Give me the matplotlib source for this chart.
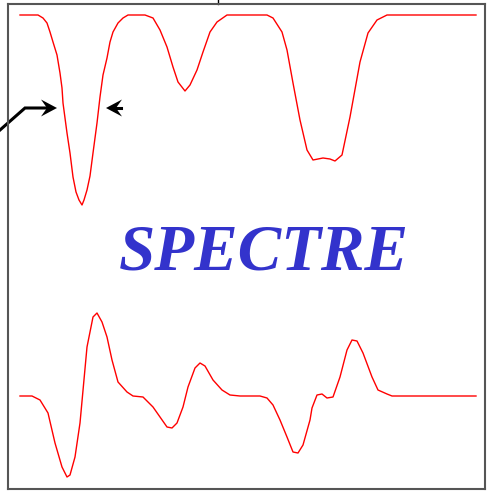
import matplotlib
matplotlib.use("Agg")
from matplotlib import pyplot as plt
from matplotlib.patches import Polygon
import numpy as np

# absorption spectrum (top) and its derivative (bottom), channel vs signal
abs_x = [12, 30, 35, 39, 42, 45, 49, 52, 54, 55, 59, 62, 65, 68, 71, 74, 76,
         79, 82, 85, 89, 92, 95, 99, 102, 105, 110, 115, 120,
         137, 145, 152, 159, 165, 170, 177, 182, 189, 195, 202, 209,
         219, 259, 265, 274, 279, 285, 292, 299, 305, 315, 322, 327, 334, 342,
         352, 360, 369, 379, 468]
abs_y = [474, 474, 471, 466, 457, 447, 434, 416, 401, 386, 356, 336, 312, 297,
         289, 284, 289, 299, 313, 336, 366, 392, 414, 431, 447, 457, 466, 471,
         474,
         474, 471, 459, 442, 422, 407, 398, 404, 419, 437, 457, 467,
         474, 474, 471, 457, 439, 406, 369, 339, 329, 331, 330, 328, 334, 372,
         427, 456, 469, 474, 474]

der_x = [12, 24, 32, 40, 47, 54, 59, 62, 67, 72, 79, 85, 89, 94, 99, 104, 110,
         119, 125, 135, 145, 152, 159, 164, 169, 175, 180, 187, 192, 197, 205,
         214, 222, 232, 252, 259, 265, 272, 279, 285, 290, 295, 302, 304, 309,
         314, 319, 325, 332, 339, 344, 349, 355, 364, 370, 379, 384, 468]
der_y = [93, 93, 89, 76, 46, 22, 12, 14, 32, 66, 142, 172, 176, 167, 152, 129,
         107, 97, 93, 92, 82, 72, 62, 61, 66, 82, 102, 121, 126, 123, 109, 99,
         94, 93, 93, 91, 84, 69, 52, 37, 36, 44, 69, 81, 94, 95, 91, 92, 112,
         139, 149, 148, 136, 112, 99, 95, 93, 93]

# half-height markers on the first band
mark_y = 381
mark_left = 49
mark_right = 98

W, H = 491, 492
fig = plt.figure(figsize=(W / 100, H / 100), dpi=100)
ax = fig.add_axes([8 / W, 3 / H, 477 / W, 485 / H])
ax.set_xlim(0, 477)
ax.set_ylim(0, 485)
ax.set_xticks([])
ax.set_yticks([])
for s in ax.spines.values():
    s.set_color("#555555")
    s.set_linewidth(1.5)

ax.plot(abs_x, abs_y, color="red", lw=1)
ax.plot(der_x, der_y, color="red", lw=1)

# small tick above the frame
ax.plot([210, 210], [485, 492], color="black", lw=1, clip_on=False)


def head(tip, direction, length=16, width=17, notch=6):
    tx, ty = tip
    d = direction
    pts = [(tx, ty),
           (tx - d * length, ty + width / 2),
           (tx - d * (length - notch), ty),
           (tx - d * length, ty - width / 2)]
    ax.add_patch(Polygon(pts, closed=True, color="black", lw=0,
                         clip_on=False))


ax.plot([-8, 17, mark_left - 8], [359, mark_y, mark_y], color="black",
        lw=2.2, solid_joinstyle="miter", clip_on=False)
head((mark_left, mark_y), 1)
ax.plot([mark_right + 10, mark_right + 15], [mark_y, mark_y], color="black",
        lw=2.2)
head((mark_right, mark_y), -1)

ax.text(256, 235, "SPECTRE", color="#3333CC", fontsize=47,
        family="Liberation Serif", fontweight="bold", fontstyle="italic",
        ha="center", va="center")

fig.savefig("out.png", dpi=100)
